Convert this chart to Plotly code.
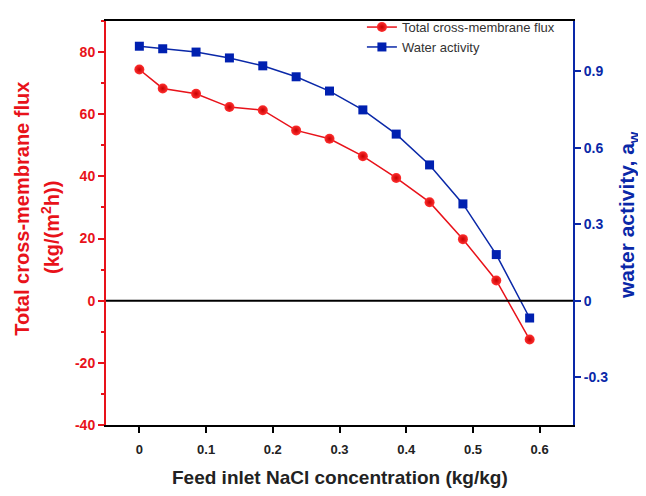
import plotly.graph_objects as go

# Feed inlet NaCl concentration (kg/kg)
conc = [0, 0.035, 0.085, 0.135, 0.185, 0.235, 0.285, 0.335, 0.385, 0.435, 0.485, 0.535, 0.585]
# Total cross-membrane flux (kg/(m2 h))
flux = [74.4, 68.3, 66.6, 62.3, 61.3, 54.8, 52.1, 46.5, 39.5, 31.7, 19.8, 6.5, -12.5]
# Water activity a_w
aw = [0.999, 0.989, 0.976, 0.953, 0.922, 0.879, 0.823, 0.749, 0.654, 0.533, 0.380, 0.181, -0.068]

x_ticks = [0, 0.1, 0.2, 0.3, 0.4, 0.5, 0.6]
y_ticks = [-40, -20, 0, 20, 40, 60, 80]
y2_ticks = [-0.3, 0, 0.3, 0.6, 0.9]

RED = "#e8121a"
BLUE = "#0a28a8"
FONT = "Liberation Sans"

fig = go.Figure()
fig.add_trace(go.Scatter(
    x=conc, y=flux, mode="lines+markers", name="Total cross-membrane flux",
    line=dict(color=RED, width=1.5),
    marker=dict(symbol="circle", size=10, color="#ff3030",
                gradient=dict(type="radial", color="#c80000"),
                line=dict(width=0)),
    yaxis="y"
))
fig.add_trace(go.Scatter(
    x=conc, y=aw, mode="lines+markers", name="Water activity",
    line=dict(color=BLUE, width=1.5),
    marker=dict(symbol="square", size=9, color="#0020b0"),
    yaxis="y2"
))

# zero line
fig.add_shape(type="line", xref="paper", x0=0, x1=1, yref="y", y0=0, y1=0,
              line=dict(color="black", width=2))

# axis titles (placed by hand, page body has an 8px margin)
title_kw = dict(xref="paper", yref="paper", showarrow=False,
                xanchor="center", yanchor="middle")
fig.add_annotation(text="Total cross-membrane flux", x=-0.18, y=0.535, textangle=-90,
                   font=dict(size=20, color=RED, weight="bold"), **title_kw)
fig.add_annotation(text="(kg/(m<sup>2</sup>h))", x=-0.12, y=0.49, textangle=-90,
                   font=dict(size=20, color=RED, weight="bold"), **title_kw)
fig.add_annotation(text="water activity, a<sub>w</sub>", x=1.118, y=0.52, textangle=-90,
                   font=dict(size=21, color=BLUE, weight="bold"), **title_kw)
fig.add_annotation(text="Feed inlet NaCl concentration (kg/kg)", x=0.501, y=-0.131,
                   font=dict(size=19, color="#222222", weight="bold"), **title_kw)

fig.update_layout(
    width=646, height=496,
    margin=dict(l=98, r=81, t=4, b=79),
    plot_bgcolor="white", paper_bgcolor="white",
    font=dict(family=FONT),
    showlegend=True,
    legend=dict(x=0.548, y=1.022, xanchor="left", yanchor="top",
                bgcolor="rgba(0,0,0,0)", font=dict(size=13, color="#333333"),
                tracegroupgap=0, itemwidth=30),
    xaxis=dict(
        range=[-0.05, 0.65], tickvals=x_ticks,
        ticktext=[f"{v:g}" for v in x_ticks],
        showline=True, linecolor="black", linewidth=2, mirror=True,
        ticks="outside", ticklen=6, tickwidth=1.5, tickcolor="black",
        tickfont=dict(size=13, color="#222222", weight="bold"),
        ticklabelstandoff=5,
        showgrid=False, zeroline=False, automargin=False,
    ),
    yaxis=dict(
        range=[-40, 90], tickvals=y_ticks,
        ticktext=[str(v) for v in y_ticks],
        showline=True, linecolor=RED, linewidth=2,
        ticks="outside", ticklen=6, tickwidth=1.5, tickcolor=RED,
        minor=dict(ticks="outside", dtick=10, ticklen=3, tickcolor=RED, showgrid=False),
        tickfont=dict(size=14, color=RED, weight="bold"),
        showgrid=False, zeroline=False, automargin=False,
    ),
    yaxis2=dict(
        range=[-0.488, 1.098], tickvals=y2_ticks,
        ticktext=[f"{v:g}" for v in y2_ticks],
        overlaying="y", side="right",
        showline=True, linecolor=BLUE, linewidth=2,
        ticks="outside", ticklen=6, tickwidth=1.5, tickcolor=BLUE,
        tickfont=dict(size=14, color=BLUE, weight="bold"),
        showgrid=False, zeroline=False, automargin=False,
    ),
)

fig.write_html("out.html")
